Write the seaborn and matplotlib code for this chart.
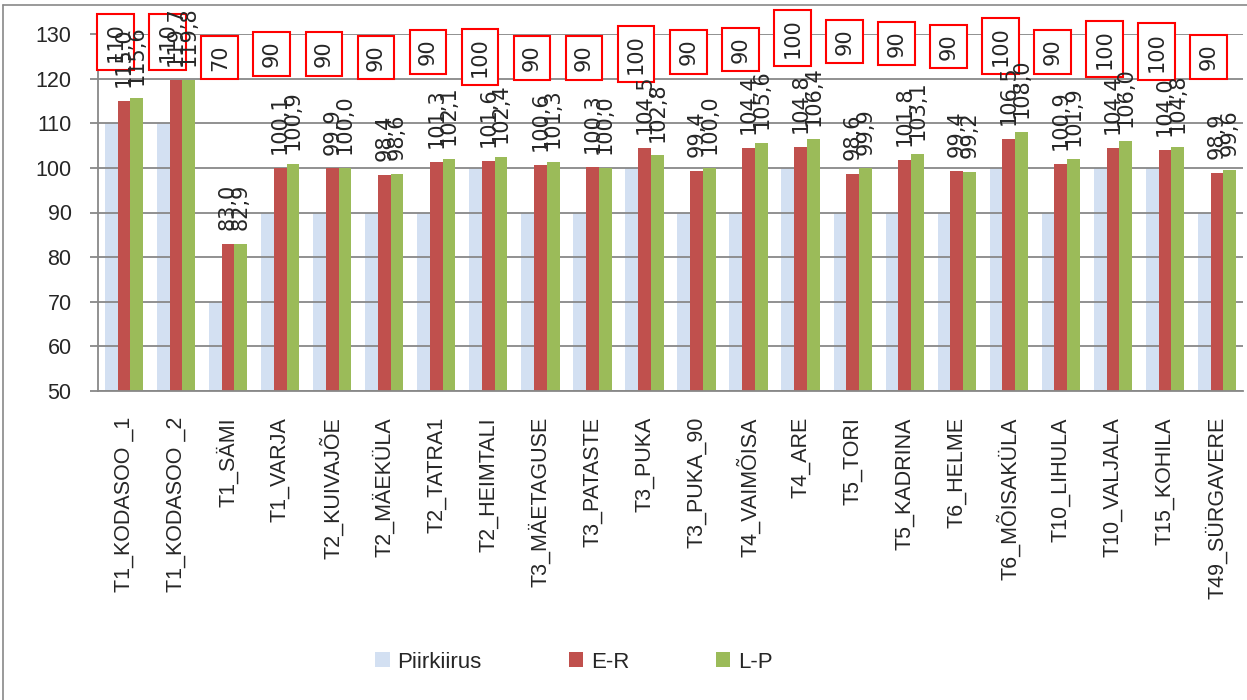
import pandas as pd
import seaborn as sns
import matplotlib.pyplot as plt
from matplotlib.lines import Line2D
from matplotlib.patches import Patch

# Categories and series values
sites = ['T1_KODASOO _1', 'T1_KODASOO _2', 'T1_SÄMI', 'T1_VARJA', 'T2_KUIVAJÕE',
         'T2_MÄEKÜLA', 'T2_TATRA1', 'T2_HEIMTALI', 'T3_MÄETAGUSE', 'T3_PATASTE',
         'T3_PUKA', 'T3_PUKA_90', 'T4_VAIMÕISA', 'T4_ARE', 'T5_TORI', 'T5_KADRINA',
         'T6_HELME', 'T6_MÕISAKÜLA', 'T10_LIHULA', 'T10_VALJALA', 'T15_KOHILA',
         'T49_SÜRGAVERE']
piirkiirus = [110, 110, 70, 90, 90, 90, 90, 100, 90, 90, 100, 90, 90, 100, 90, 90,
              90, 100, 90, 100, 100, 90]
er = [115.0, 119.7, 83.0, 100.1, 99.9, 98.4, 101.3, 101.6, 100.6, 100.3, 104.5, 99.4,
      104.4, 104.8, 98.6, 101.8, 99.4, 106.5, 100.9, 104.4, 104.0, 98.9]
lp = [115.6, 119.8, 82.9, 100.9, 100.0, 98.6, 102.1, 102.4, 101.3, 100.0, 102.8, 100.0,
      105.6, 106.4, 99.9, 103.1, 99.2, 108.0, 101.9, 106.0, 104.8, 99.6]
series = ['Piirkiirus', 'E-R', 'L-P']
colors = ['#D3E0F2', '#C0504D', '#9BBB59']

# the boxed Piirkiirus labels were dragged to the top of the plot (value units)
piir_label_y = [128.3, 128.3, 124.7, 125.6, 125.6, 124.8, 126.0, 124.9, 124.7, 124.7,
                125.6, 126.0, 126.6, 129.2, 128.4, 127.9, 127.2, 127.4, 126.0, 126.7,
                126.1, 124.9]

df = pd.DataFrame({
    'site': sites * 3,
    'value': piirkiirus + er + lp,
    'series': ['Piirkiirus'] * len(sites) + ['E-R'] * len(sites) + ['L-P'] * len(sites),
})

sns.set_style('white')
plt.rcParams['font.family'] = ['Liberation Sans', 'DejaVu Sans']

fig = plt.figure(figsize=(12.47, 7), dpi=100)
ax = fig.add_axes([98 / 1247, 1 - 390.7 / 700, (1243 - 98) / 1247, (390.7 - 34.3) / 700])

sns.barplot(data=df, x='site', y='value', hue='series', hue_order=series,
            palette=colors, saturation=1, width=0.735, linewidth=0, ax=ax)
ax.get_legend().remove()

# light blue bars sit under the gridlines like in the original
for bar in ax.containers[0]:
    bar.set_zorder(0.3)

ax.set_ylim(50, 130)
ax.set_xlim(-0.5, len(sites) - 0.5)
ax.set_yticks(range(50, 131, 10))
ax.set_xlabel('')
ax.set_ylabel('')
ax.set_axisbelow(True)
ax.yaxis.grid(True, color='#888888', linewidth=1.3, zorder=0.5)

for side in ['top', 'right']:
    ax.spines[side].set_visible(False)
for side in ['left', 'bottom']:
    ax.spines[side].set_color('#888888')
    ax.spines[side].set_linewidth(1.3)

ax.set_xticks(range(len(sites)))
ax.set_xticklabels(sites, rotation=90, fontsize=15.5)
ax.set_xticks([i - 0.5 for i in range(len(sites) + 1)], minor=True)
ax.tick_params(axis='x', which='major', length=0, pad=19)
ax.tick_params(axis='x', which='minor', length=6, width=1.3, color='#888888', direction='out')
ax.tick_params(axis='y', length=6, width=1.3, color='#888888', direction='out', pad=13,
               labelsize=15.5, left=True)

# boxed Piirkiirus labels
for i, v in enumerate(piirkiirus):
    ax.text(i - 0.16, piir_label_y[i], str(v), rotation=90, ha='center', va='center',
            fontsize=15, family='DejaVu Sans', zorder=5, clip_on=False,
            bbox=dict(boxstyle='square,pad=0.4', fc='white', ec='red', lw=1.5))

# value labels above the E-R and L-P bars
for cont, vals in zip(ax.containers[1:], [er, lp]):
    for bar, v in zip(cont, vals):
        ax.annotate(f'{v:.1f}'.replace('.', ','),
                    (bar.get_x() + bar.get_width() / 2, bar.get_height()),
                    xytext=(0, 10), textcoords='offset points', rotation=90,
                    ha='center', va='bottom', fontsize=15, family='DejaVu Sans',
                    zorder=6, annotation_clip=False)

handles = [Patch(facecolor=c, edgecolor='none') for c in colors]
fig.legend(handles, series, loc='center', bbox_to_anchor=(574 / 1247, 1 - 662 / 700),
           ncol=3, frameon=False, fontsize=16, handlelength=0.65, handleheight=0.65,
           handletextpad=0.35, columnspacing=3.9)

# chart area border (cut off on the right and bottom in the original)
fig.add_artist(Line2D([3 / 1247, 3 / 1247], [0, 1 - 5 / 700], transform=fig.transFigure,
                      color='#898989', lw=1.2))
fig.add_artist(Line2D([3 / 1247, 1], [1 - 5 / 700, 1 - 5 / 700], transform=fig.transFigure,
                      color='#898989', lw=1.2))

fig.savefig('out.png', dpi=100)
